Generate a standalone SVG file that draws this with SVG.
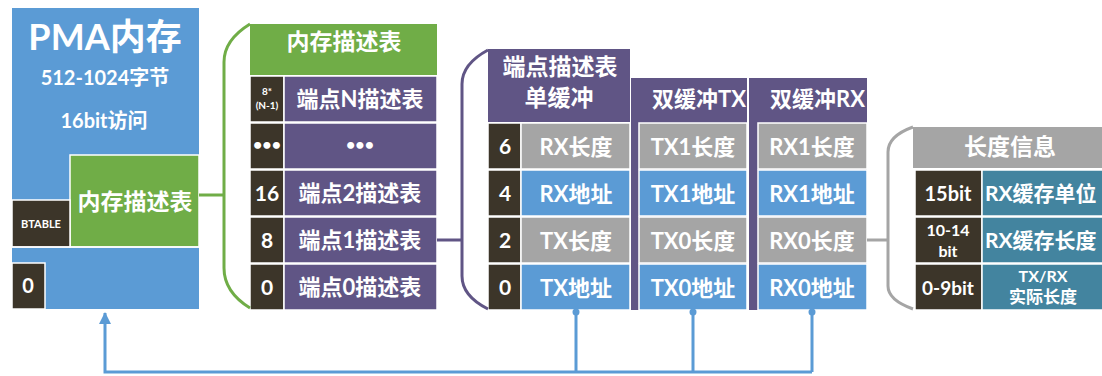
<svg xmlns="http://www.w3.org/2000/svg" width="1102" height="376" viewBox="0 0 1102 376">
<style>
.t{font-family:Lato,"Noto Sans CJK SC",sans-serif;font-weight:bold;fill:#fff;text-anchor:middle}
.blue{fill:#5B9BD5}.green{fill:#70AD47}.pur{fill:#605585}.dark{fill:#3C3529}.gray{fill:#A5A5A5}.teal{fill:#43849F}
.c{stroke:#fff;stroke-width:1.5}
.br{fill:none;stroke-width:3}
</style>
<defs>
<marker id="ah" markerWidth="12" markerHeight="12" refX="11" refY="6" orient="auto" markerUnits="userSpaceOnUse" viewBox="0 0 12 12">
<path d="M0,0 L12,6 L0,12 Z" fill="#5B9BD5"/>
</marker>
</defs>
<rect width="1102" height="376" fill="#fff"/>

<g id="pma">
<rect class="blue" x="12" y="8" width="187" height="301"/>
<rect class="green c" x="70" y="155" width="129" height="92"/>
<rect class="dark c" x="12" y="200" width="58" height="47"/>
<line x1="12" y1="247" x2="199" y2="247" stroke="#fff" stroke-width="1.5"/>
<rect class="dark c" x="12" y="263" width="33" height="46"/>
<text class="t" x="105" y="50" font-size="36">PMA内存</text>
<text class="t" x="105" y="85" font-size="20">512-1024字节</text>
<text class="t" x="104" y="128" font-size="20">16bit访问</text>
<text class="t" x="135" y="210" font-size="23">内存描述表</text>
<text class="t" x="41" y="228" font-size="11">BTABLE</text>
<text class="t" x="28" y="293" font-size="20">0</text>
</g>

<g id="mem-table">
<rect class="green" x="250" y="24" width="187" height="51"/>
<text class="t" x="344" y="50" font-size="23">内存描述表</text>
<rect class="dark c" x="250" y="76" width="34" height="46"/>
<rect class="pur c" x="284" y="76" width="153" height="46"/>
<rect class="dark c" x="250" y="123" width="34" height="46"/>
<rect class="pur c" x="284" y="123" width="153" height="46"/>
<rect class="dark c" x="250" y="170" width="34" height="46"/>
<rect class="pur c" x="284" y="170" width="153" height="46"/>
<rect class="dark c" x="250" y="217" width="34" height="46"/>
<rect class="pur c" x="284" y="217" width="153" height="46"/>
<rect class="dark c" x="250" y="264" width="34" height="46"/>
<rect class="pur c" x="284" y="264" width="153" height="46"/>
<text class="t" x="267" y="95" font-size="10">8*</text>
<text class="t" x="267" y="109" font-size="10">(N-1)</text>
<text class="t" x="360" y="107" font-size="22">端点N描述表</text>
<text class="t" x="267" y="150" font-size="16">•••</text>
<text class="t" x="360" y="150" font-size="16">•••</text>
<text class="t" x="267" y="201" font-size="21">16</text>
<text class="t" x="360" y="201" font-size="22">端点2描述表</text>
<text class="t" x="267" y="248" font-size="21">8</text>
<text class="t" x="360" y="248" font-size="22">端点1描述表</text>
<text class="t" x="267" y="295" font-size="21">0</text>
<text class="t" x="360" y="295" font-size="22">端点0描述表</text>
</g>

<g id="ep-single">
<rect class="pur" x="488" y="49" width="142" height="73"/>
<text class="t" x="560" y="75" font-size="23">端点描述表</text>
<text class="t" x="559" y="106" font-size="23">单缓冲</text>
<rect class="dark c" x="488" y="123" width="33" height="46"/>
<rect class="gray c" x="521" y="123" width="109" height="46"/>
<rect class="dark c" x="488" y="170" width="33" height="46"/>
<rect class="blue c" x="521" y="170" width="109" height="46"/>
<rect class="dark c" x="488" y="217" width="33" height="46"/>
<rect class="gray c" x="521" y="217" width="109" height="46"/>
<rect class="dark c" x="488" y="264" width="33" height="46"/>
<rect class="blue c" x="521" y="264" width="109" height="46"/>
<text class="t" x="505" y="154" font-size="21">6</text>
<text class="t" x="576" y="155" font-size="22">RX长度</text>
<text class="t" x="505" y="201" font-size="21">4</text>
<text class="t" x="576" y="202" font-size="22">RX地址</text>
<text class="t" x="505" y="248" font-size="21">2</text>
<text class="t" x="576" y="249" font-size="22">TX长度</text>
<text class="t" x="505" y="295" font-size="21">0</text>
<text class="t" x="576" y="296" font-size="22">TX地址</text>
</g>

<g id="ep-double-tx">
<rect class="pur" x="631" y="78" width="116" height="232"/>
<text x="652" y="107" font-size="22" class="t" style="text-anchor:start">双缓冲TX</text>
<rect class="gray c" x="639" y="123" width="108" height="46"/>
<rect class="blue c" x="639" y="170" width="108" height="46"/>
<rect class="gray c" x="639" y="217" width="108" height="46"/>
<rect class="blue c" x="639" y="264" width="108" height="46"/>
<text class="t" x="693" y="155" font-size="22">TX1长度</text>
<text class="t" x="693" y="202" font-size="22">TX1地址</text>
<text class="t" x="693" y="249" font-size="22">TX0长度</text>
<text class="t" x="693" y="296" font-size="22">TX0地址</text>
</g>

<g id="ep-double-rx">
<rect class="pur" x="749" y="78" width="118" height="232"/>
<text x="770" y="107" font-size="22" class="t" style="text-anchor:start">双缓冲RX</text>
<rect class="gray c" x="758" y="123" width="109" height="46"/>
<rect class="blue c" x="758" y="170" width="109" height="46"/>
<rect class="gray c" x="758" y="217" width="109" height="46"/>
<rect class="blue c" x="758" y="264" width="109" height="46"/>
<text class="t" x="812" y="155" font-size="22">RX1长度</text>
<text class="t" x="812" y="202" font-size="22">RX1地址</text>
<text class="t" x="812" y="249" font-size="22">RX0长度</text>
<text class="t" x="812" y="296" font-size="22">RX0地址</text>
</g>

<g id="len-info">
<rect class="gray" x="913" y="127" width="189" height="41"/>
<text class="t" x="1010" y="155" font-size="23">长度信息</text>
<rect class="dark c" x="915" y="170" width="67" height="46"/>
<rect class="teal c" x="982" y="170" width="122" height="46"/>
<rect class="dark c" x="915" y="217" width="67" height="46"/>
<rect class="teal c" x="982" y="217" width="122" height="46"/>
<rect class="dark c" x="915" y="264" width="67" height="46"/>
<rect class="teal c" x="982" y="264" width="122" height="46"/>
<text class="t" x="948" y="201" font-size="20">15bit</text>
<text class="t" x="985" y="201" font-size="21" style="text-anchor:start">RX缓存单位</text>
<text class="t" x="948" y="236" font-size="16">10-14</text>
<text class="t" x="948" y="257" font-size="16">bit</text>
<text class="t" x="985" y="248" font-size="21" style="text-anchor:start">RX缓存长度</text>
<text class="t" x="948" y="295" font-size="19">0-9bit</text>
<text class="t" x="1043" y="282" font-size="16">TX/RX</text>
<text class="t" x="1043" y="303" font-size="17">实际长度</text>
</g>

<g id="connectors">
<path class="br" stroke="#70AD47" d="M199,195 H224 M250,24 Q224,40 224,62 V268 Q224,292 250,308"/>
<path class="br" stroke="#605585" d="M437,240 H462 M488,50 Q462,64 462,84 V276 Q462,296 488,309"/>
<path class="br" stroke="#A5A5A5" d="M867,240 H888 M913,127 Q888,136 888,152 V286 Q888,300 913,309"/>
<g stroke="#5B9BD5" stroke-width="3" fill="none">
<path d="M576,311 V372 M693,311 V372 M812,311 V372"/>
<path d="M812,372 H105 V313" marker-end="url(#ah)"/>
</g>
<g fill="#5B9BD5">
<circle cx="576" cy="312" r="3.5"/>
<circle cx="693" cy="312" r="3.5"/>
<circle cx="812" cy="312" r="3.5"/>
</g>
</g>
</svg>
